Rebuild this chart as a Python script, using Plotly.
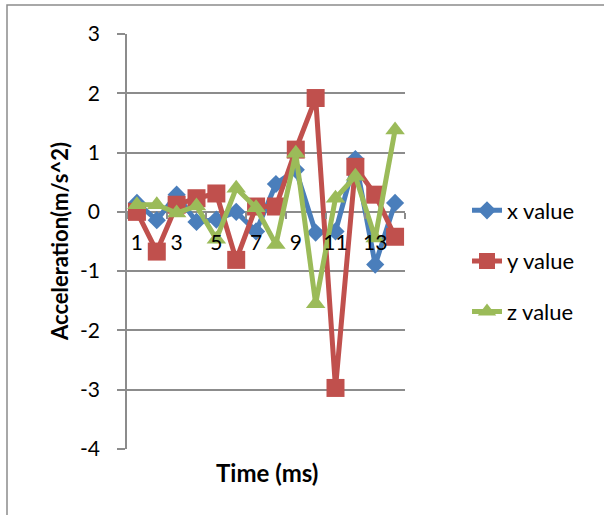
import plotly.graph_objects as go

# Sample index (ms) and acceleration readings per axis
time_ms = list(range(1, 15))
x_value = [0.15, -0.14, 0.29, -0.17, -0.13, 0.0, -0.33, 0.47, 0.71, -0.35, -0.33, 0.89, -0.89, 0.15]
y_value = [0.0, -0.67, 0.12, 0.23, 0.31, -0.81, 0.09, 0.09, 1.05, 1.92, -2.97, 0.76, 0.29, -0.42]
z_value = [0.12, 0.12, -0.02, 0.10, -0.46, 0.40, 0.07, -0.55, 0.99, -1.55, 0.23, 0.60, -0.44, 1.38]
x_labels = [1, 3, 5, 7, 9, 11, 13]
y_ticks = [3, 2, 1, 0, -1, -2, -3, -4]

FONT = "Lato"
GRID = "#8c8c8c"

series = [
    ("x value", x_value, "#4A7EBB", "diamond", 14),
    ("y value", y_value, "#C0504D", "square", 18),
    ("z value", z_value, "#9BBB59", "triangle-up", 17),
]

fig = go.Figure()
for name, vals, color, symbol, size in series:
    fig.add_trace(go.Scatter(
        x=time_ms, y=vals, name=name, legendgroup=name,
        mode="lines+markers",
        line=dict(color=color, width=5),
        marker=dict(symbol=symbol, size=size, color=color),
    ))

W, H = 604, 515
L, R, T, B = 127, 199, 34, 66
pw, ph = W - L - R, H - T - B

def px_x(p):
    return (p - L) / pw

def px_y(p):
    return (H - B - p) / ph

fig.update_layout(
    width=W, height=H,
    margin=dict(l=L, r=R, t=T, b=B, pad=0),
    paper_bgcolor="white", plot_bgcolor="white",
    font=dict(family=FONT, size=21, color="black"),
    showlegend=True,
    legend=dict(
        x=px_x(467), y=px_y(261), xanchor="left", yanchor="middle",
        font=dict(family=FONT, size=22, color="black"),
        tracegroupgap=19, bgcolor="rgba(0,0,0,0)",
    ),
    xaxis=dict(
        range=[0.5, 14.5], tickmode="array", tickvals=x_labels,
        ticktext=[str(v) for v in x_labels],
        ticks="", showgrid=False, zeroline=False,
        showline=False, anchor="free", position=4 / 7,
        ticklabelstandoff=16,
        tickfont=dict(family=FONT, size=21, color="black"),
        minor=dict(tickmode="array", tickvals=[0.5 + 2 * i for i in range(8)],
                   ticks="outside", ticklen=6, tickcolor=GRID, tickwidth=1.5,
                   showgrid=False),
    ),
    yaxis=dict(
        range=[-4, 3], tickmode="array", tickvals=y_ticks,
        ticktext=[str(v) for v in y_ticks],
        ticks="outside", ticklen=8, tickcolor=GRID, tickwidth=1.5,
        showgrid=True, gridcolor=GRID, gridwidth=1.5,
        zeroline=True, zerolinecolor=GRID, zerolinewidth=1.5,
        showline=True, linecolor=GRID, linewidth=1.5,
        ticklabelstandoff=13,
        tickfont=dict(family=FONT, size=21, color="black"),
    ),
    annotations=[
        dict(text="<b>Acceleration(m/s^2)</b>", textangle=-90,
             xref="paper", yref="paper", x=px_x(60), y=px_y(242),
             xanchor="center", yanchor="middle", showarrow=False,
             font=dict(family=FONT, size=22, color="black")),
        dict(text="<b>Time (ms)</b>",
             xref="paper", yref="paper", x=px_x(267), y=px_y(472),
             xanchor="center", yanchor="middle", showarrow=False,
             font=dict(family=FONT, size=24, color="black")),
    ],
    shapes=[
        dict(type="rect", xref="paper", yref="paper",
             x0=px_x(7), y0=px_y(700), x1=px_x(900), y1=px_y(5),
             line=dict(color="#8c8c8c", width=1.5), fillcolor="rgba(0,0,0,0)",
             layer="below"),
    ],
)

fig.write_html("out.html")
